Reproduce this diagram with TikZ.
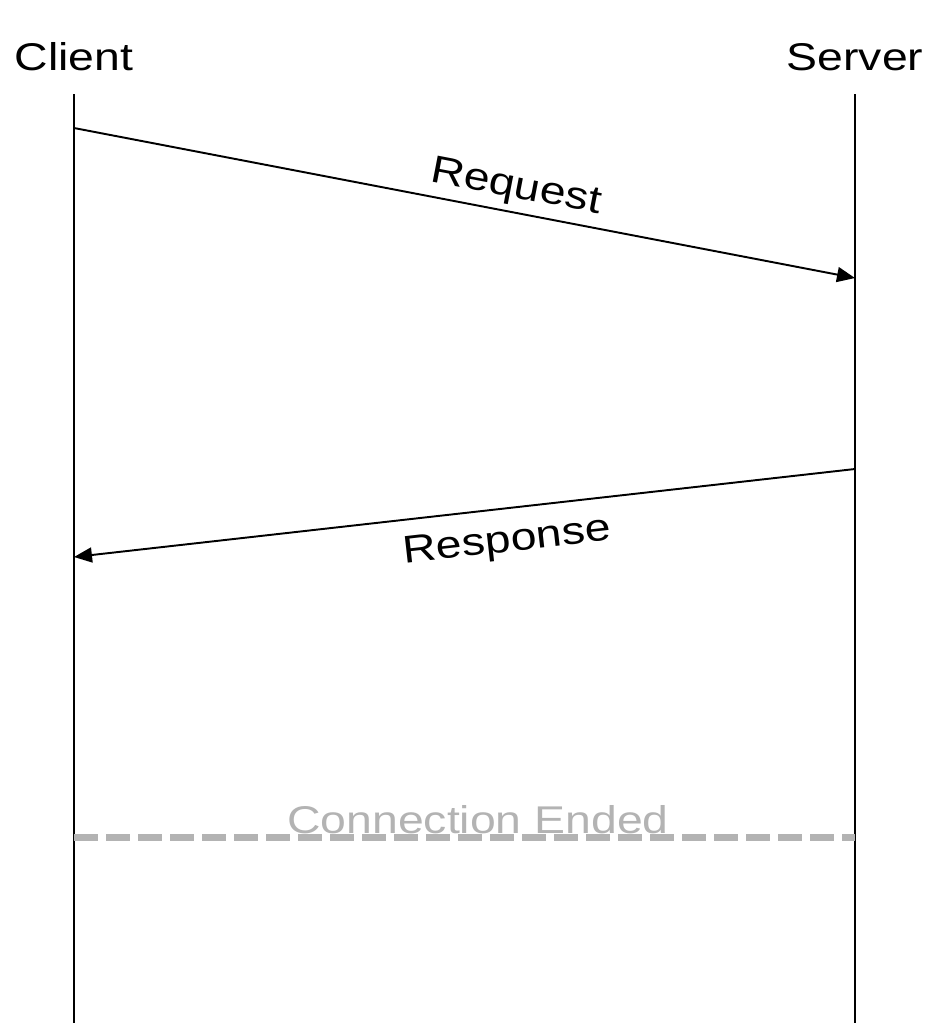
\documentclass[tikz,border=0pt]{standalone}
\usepackage{fontspec}
\setmainfont{Liberation Sans}
\usetikzlibrary{arrows.meta, positioning}
\definecolor{endgray}{HTML}{B3B3B3}

\begin{document}
\begin{tikzpicture}[
  actor/.style={font=\fontsize{22}{26}\selectfont, xscale=1.2,
    anchor=base, inner sep=0pt},
  msg/.style={font=\fontsize{22}{26}\selectfont, xscale=1.2, sloped},
  life/.style={line width=1.1pt},
  arr/.style={-{Triangle[length=0.36cm, width=0.3cm]}, line width=1.1pt},
  endline/.style={endgray, line width=0.14cm, dash pattern=on 0.48cm off 0.16cm}
]
  \useasboundingbox (0,0) rectangle (18.56,-20.46);

  % Actors
  \node[actor] (client) at (1.48,-1.40) {Client};
  \node[actor] (server) at (17.10,-1.40) {Server};

  % Lifelines
  \coordinate (clienttop) at (1.48,-1.88);
  \coordinate (clientbot) at (1.48,-20.46);
  \coordinate (servertop) at (17.10,-1.88);
  \coordinate (serverbot) at (17.10,-20.46);
  \draw[life] (clienttop) -- (clientbot);
  \draw[life] (servertop) -- (serverbot);

  % Messages
  \coordinate (reqstart) at (1.48,-2.56);
  \coordinate (reqend) at (17.10,-5.56);
  \coordinate (respstart) at (17.10,-9.38);
  \coordinate (respend) at (1.48,-11.14);
  \draw[arr] (reqstart) -- node[msg, pos=0.56, anchor=south, inner sep=3.4pt]
    (request) {Request} (reqend);
  \draw[arr] (respstart) -- node[msg, pos=0.45, anchor=north, inner sep=9pt]
    (response) {Response} (respend);

  % Connection end
  \coordinate (endleft) at (1.48,-16.75);
  \coordinate (endright) at (17.10,-16.75);
  \draw[endline] (endleft) -- (endright);
  \node[actor, text=endgray] (ended) at (9.56,-16.66) {Connection Ended};
\end{tikzpicture}
\end{document}
